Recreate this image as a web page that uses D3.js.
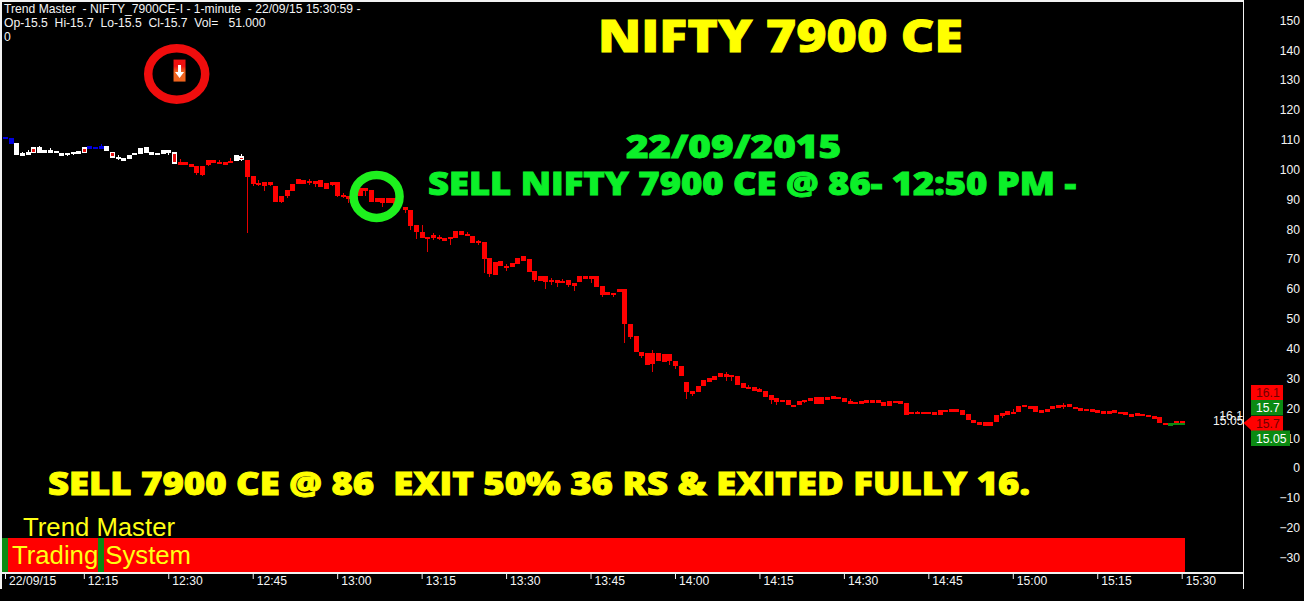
<!DOCTYPE html>
<html>
<head>
<meta charset="utf-8">
<script src="https://cdn.jsdelivr.net/npm/d3@7"></script>
<style>
  html, body { margin: 0; padding: 0; background: #000; overflow: hidden; }
  text { white-space: pre; }
  .small { font: 12.15px "Liberation Sans", Arial, sans-serif; fill: #f4f4f4; }
  .heavy { font-family: "Open Sans", sans-serif; font-weight: 800; stroke-width: 0.9; }
  .signal { font: 26px "Liberation Sans", Arial, sans-serif; fill: #ffff14; }
</style>
</head>
<body>
<div id="viz"></div>
<script>
const width = 1304;
const height = 601;

// One candle per minute, 12:01 to 15:30
const opens = [
  111.0,110.5,109.0,105.4,106.0,107.4,107.6,106.5,106.5,106.3,
  105.4,105.6,106.0,106.2,107.4,107.8,107.6,107.8,107.8,106.0,
  104.3,103.8,104.7,105.6,107.2,107.4,106.0,105.7,106.5,106.5,
  105.8,102.5,102.5,102.0,101.1,101.1,103.1,103.2,102.6,102.4,
  103.0,104.8,104.5,103.2,97.8,95.5,95.8,95.8,94.5,91.1,
  93.1,95.2,96.7,96.5,96.2,96.0,96.5,95.4,95.8,95.8,
  91.6,91.1,91.5,93.8,93.8,93.1,90.5,90.5,90.5,90.5,
  89.0,87.3,86.4,81.4,79.2,77.5,77.9,77.5,77.2,77.5,
  79.5,79.5,78.5,77.7,76.1,75.7,70.2,69.1,69.2,67.7,
  68.7,70.5,71.0,69.9,66.1,64.3,64.3,63.0,62.9,62.8,
  62.9,62.0,64.3,64.2,64.2,64.3,60.9,58.9,58.7,59.8,
  59.8,48.4,44.2,39.0,38.6,38.6,38.4,38.1,38.1,36.0,
  34.1,28.8,25.7,27.5,29.5,30.2,30.8,31.7,31.4,31.2,
  30.8,28.4,27.2,27.0,26.3,25.9,24.5,23.4,22.8,22.8,
  21.2,22.3,22.8,23.4,23.7,23.7,23.7,24.1,23.8,23.5,
  22.3,22.2,22.3,22.7,22.7,22.7,22.0,22.3,22.6,22.3,
  21.7,18.8,18.8,18.8,18.8,18.9,19.3,19.5,19.7,19.7,
  19.3,18.0,16.1,15.3,15.3,15.3,17.7,18.3,19.2,18.9,
  20.8,21.2,20.7,20.8,19.3,19.7,20.7,21.0,21.2,21.5,
  20.5,20.0,19.8,19.7,19.4,19.0,19.0,19.4,18.9,18.6,
  18.0,18.3,18.2,17.8,17.3,17.0,15.1,15.0,15.9,15.9
];
const closes = [
  110.1,108.7,104.9,104.9,104.9,105.4,105.4,105.4,106.0,105.4,
  105.2,104.9,105.4,105.9,105.4,106.9,107.4,107.6,106.3,104.0,
  103.6,103.6,103.6,104.7,105.2,105.6,104.9,104.9,105.2,105.8,
  102.0,102.3,102.0,100.7,98.7,98.2,101.6,102.3,102.4,102.2,
  102.3,102.8,103.2,97.6,95.2,95.3,94.5,94.9,89.1,89.1,
  91.1,92.9,95.2,95.2,96.0,95.6,94.3,93.6,95.2,91.1,
  90.9,90.7,91.0,91.1,92.9,89.1,89.1,88.7,88.7,88.7,
  88.5,86.6,81.0,79.1,77.0,76.8,77.0,76.8,76.1,77.2,
  77.0,77.9,78.2,75.4,75.8,70.1,65.0,64.6,67.6,67.5,
  67.2,68.3,69.4,65.6,62.9,62.7,62.3,62.8,62.7,62.6,
  61.4,61.1,62.3,63.8,63.8,60.7,57.8,58.0,58.0,58.9,
  48.4,44.0,38.8,37.5,34.6,35.0,35.7,35.5,35.7,34.3,
  30.8,25.3,25.3,25.3,27.3,28.8,29.5,30.6,31.1,30.7,
  27.9,26.8,26.9,25.9,26.0,23.9,22.8,22.2,22.1,21.2,
  20.6,21.0,22.1,22.6,21.5,21.5,23.2,23.2,23.6,22.1,
  21.9,21.6,21.7,22.1,21.8,21.8,20.9,20.9,22.3,21.5,
  17.9,18.6,18.6,18.6,18.6,17.9,17.9,19.3,19.2,19.3,
  17.9,16.2,15.2,15.1,14.2,13.9,15.4,17.9,17.9,18.7,
  18.9,21.0,20.5,18.9,19.1,19.2,19.8,20.1,21.0,20.3,
  20.2,19.8,19.6,19.0,18.9,18.6,18.6,18.6,18.7,18.0,
  17.8,17.7,17.7,17.2,17.1,15.0,14.9,14.5,15.0,15.0
];
// Only the minutes where a wick sticks out of the body
const upperWicks = {3:105.9,4:106.4,6:108.0,8:107.2,17:108.5,20:104.9,31:103.6,38:103.2,40:103.7,42:105.2,
  45:96.4,54:96.7,60:92.2,74:81.3,76:78.6,77:78.1,82:79.2,84:76.5,89:68.2,97:63.6,99:63.2,115:39.5,
  128:32.2,132:27.9,134:26.8,150:23.0,162:19.1,179:19.7,188:21.7};
const lowerWicks = {3:104.5,8:105.4,11:104.5,12:105.0,20:103.2,29:105.0,34:98.0,35:97.8,36:101.2,38:101.9,
  42:102.8,43:78.8,44:94.5,45:94.4,46:92.9,47:94.5,49:88.7,50:90.6,54:94.7,55:94.3,58:94.5,59:90.7,
  60:90.6,61:88.9,64:91.1,67:87.6,69:88.2,71:85.3,72:79.7,73:76.8,75:72.4,76:76.3,77:76.3,79:74.6,
  82:77.6,84:74.6,85:65.2,86:64.1,89:66.1,94:62.4,96:60.0,97:61.4,98:60.7,99:62.1,100:60.5,101:59.4,
  103:63.2,104:62.0,106:57.4,108:57.4,110:41.9,111:43.1,113:37.0,115:32.2,118:34.5,119:33.2,121:23.0,
  122:24.1,128:29.3,129:29.3,136:21.5,137:21.2,142:21.7,152:21.5,177:16.7,188:19.7,192:19.2};

// Candle colouring by minute; everything else is red
const blueMinutes = [0, 1, 15, 16, 17];
const whiteMinutes = [2, 3, 4, 6, 7, 8, 9, 10, 11, 12, 13, 18, 20, 21, 22, 23, 24, 25, 26, 27, 28, 29, 41];
const hollowMinutes = [5, 14, 19, 30, 42];
const greenMinutes = [207];
// Green stub under the last two red candles
const tailMinutes = [208, 209];
const tailTops = [15.0, 15.0];
const tailBottoms = [14.5, 14.5];

const yTicks = [150, 140, 130, 120, 110, 100, 90, 80, 70, 60, 50, 40, 30, 20, 10, 0, -10, -20, -30];
const xTickMinutes = [0, 14, 29, 44, 59, 74, 89, 104, 119, 134, 149, 164, 179, 194, 209];
const xTickLabels = ['22/09/15', '12:15', '12:30', '12:45', '13:00', '13:15', '13:30', '13:45',
  '14:00', '14:15', '14:30', '14:45', '15:00', '15:15', '15:30'];
const signalGreenMinutes = [0, 17];

// Markers on the chart: [minute, price]
const sellArrow = [31, 135];
const redRing = [30.5, 132];
const greenRing = [66, 91];

const svg = d3.select('#viz')
  .append('svg')
    .attr('width', width)
    .attr('height', height)
    .style('display', 'block');

const xScale = d3.scaleLinear().domain([0, 209]).range([5, 1181.7]);
const yScale = d3.scaleLinear().domain([-30, 150]).range([557.5, 20.3]);

svg.append('rect').attr('width', width).attr('height', height).attr('fill', '#000');

const defs = svg.append('defs');
const grad = defs.append('linearGradient').attr('id', 'arrowBox').attr('x1', 0).attr('x2', 0).attr('y1', 0).attr('y2', 1);
grad.append('stop').attr('offset', '0.3').attr('stop-color', '#f01010');
grad.append('stop').attr('offset', '0.55').attr('stop-color', '#f0641e');

// Frame
const frame = svg.append('g').attr('stroke', '#f2f2f2').attr('stroke-width', 1.5).attr('shape-rendering', 'crispEdges');
frame.append('line').attr('x1', 1).attr('x2', 1243).attr('y1', 1).attr('y2', 1);
frame.append('line').attr('x1', 1).attr('x2', 1).attr('y1', 0).attr('y2', 589);
frame.append('line').attr('x1', 1243.5).attr('x2', 1243.5).attr('y1', 0).attr('y2', 589);

// Signal strip, one cell a minute
svg.append('g')
  .selectAll('rect')
  .data(d3.range(0, 210))
  .join('rect')
    .attr('x', d => xScale(d) - 2.8)
    .attr('width', 5.7)
    .attr('y', 538)
    .attr('height', 35)
    .attr('shape-rendering', 'crispEdges')
    .attr('fill', d => signalGreenMinutes.includes(d) ? '#0b8a12' : '#ff0000');

svg.append('text').attr('class', 'signal').attr('x', 23).attr('y', 536)
  .attr('textLength', 152).attr('lengthAdjust', 'spacingAndGlyphs').text('Trend Master');
svg.append('text').attr('class', 'signal').attr('x', 12).attr('y', 564)
  .attr('textLength', 179).attr('lengthAdjust', 'spacingAndGlyphs').text('Trading System');

// Candles
const candleColor = i => {
  if (blueMinutes.includes(i)) return '#0000e0';
  if (whiteMinutes.includes(i) || hollowMinutes.includes(i)) return '#ffffff';
  if (greenMinutes.includes(i)) return '#0b8a12';
  return '#ff0000';
};
const candles = d3.range(0, opens.length).map(i => ({
  minute: i,
  open: opens[i],
  close: closes[i],
  high: upperWicks[i] !== undefined ? upperWicks[i] : opens[i],
  low: lowerWicks[i] !== undefined ? lowerWicks[i] : closes[i]
}));

const candleGroup = svg.append('g').attr('shape-rendering', 'crispEdges');
candleGroup.selectAll('.wick')
  .data(candles)
  .join('line')
    .attr('class', 'wick')
    .attr('x1', d => Math.round(xScale(d.minute)) + 0.5)
    .attr('x2', d => Math.round(xScale(d.minute)) + 0.5)
    .attr('y1', d => yScale(d.high))
    .attr('y2', d => yScale(d.low))
    .attr('stroke', d => candleColor(d.minute) === '#ff0000' ? '#e60000' : candleColor(d.minute));
candleGroup.selectAll('.body')
  .data(candles)
  .join('rect')
    .attr('class', 'body')
    .attr('x', d => Math.round(xScale(d.minute)) - 2)
    .attr('width', 5)
    .attr('y', d => yScale(d.open))
    .attr('height', d => Math.max(2.5, yScale(d.close) - yScale(d.open)))
    .attr('fill', d => candleColor(d.minute));
candleGroup.selectAll('.hollow')
  .data(candles.filter(d => hollowMinutes.includes(d.minute)))
  .join('rect')
    .attr('class', 'hollow')
    .attr('x', d => Math.round(xScale(d.minute)) - 1)
    .attr('width', 3)
    .attr('y', d => yScale(d.open) + 1.5)
    .attr('height', d => Math.max(1, yScale(d.close) - yScale(d.open) - 3))
    .attr('fill', '#e81010');
candleGroup.selectAll('.tail')
  .data(tailMinutes)
  .join('rect')
    .attr('class', 'tail')
    .attr('x', d => Math.round(xScale(d)) - 3)
    .attr('width', 6)
    .attr('y', (d, i) => yScale(tailTops[i]))
    .attr('height', (d, i) => yScale(tailBottoms[i]) - yScale(tailTops[i]))
    .attr('fill', '#0b8a12');

// Sell marker
const ax = xScale(sellArrow[0]);
const ay = yScale(sellArrow[1]);
svg.append('rect').attr('x', ax - 6).attr('y', ay - 5.5).attr('width', 12).attr('height', 22).attr('fill', 'url(#arrowBox)');
svg.append('path')
  .attr('d', `M${ax - 1.5},${ay} h3 v7 h3 l-4.5,6 l-4.5,-6 h3 z`)
  .attr('fill', '#fff');

// Rings
svg.append('ellipse')
  .attr('cx', xScale(redRing[0])).attr('cy', yScale(redRing[1]))
  .attr('rx', 28.5).attr('ry', 25.7)
  .attr('fill', 'none').attr('stroke', '#f00d0d').attr('stroke-width', 8.5);
svg.append('ellipse')
  .attr('cx', xScale(greenRing[0])).attr('cy', yScale(greenRing[1]))
  .attr('rx', 23).attr('ry', 21.5)
  .attr('fill', 'none').attr('stroke', '#1ef01e').attr('stroke-width', 8.5);

// Price axis, right aligned
const yAxisGroup = svg.append('g')
  .attr('transform', 'translate(1300, 0)')
  .call(d3.axisLeft(yScale).tickValues(yTicks).tickSize(0).tickPadding(0));
yAxisGroup.select('.domain').remove();
yAxisGroup.selectAll('text').attr('class', 'small').style('font', '12.15px "Liberation Sans", Arial, sans-serif');

// Time axis
const xAxisGroup = svg.append('g')
  .attr('transform', 'translate(0, 573)')
  .call(d3.axisBottom(xScale)
    .tickValues(xTickMinutes)
    .tickSize(6)
    .tickFormat((d, i) => xTickLabels[i]));
xAxisGroup.select('.domain').remove();
xAxisGroup.selectAll('.tick line').attr('stroke', '#f2f2f2');
xAxisGroup.selectAll('text')
  .attr('class', 'small')
  .style('font', '12.15px "Liberation Sans", Arial, sans-serif')
  .attr('text-anchor', 'start')
  .attr('x', 3.5)
  .attr('y', 3);
svg.append('line').attr('x1', 0).attr('x2', 1243).attr('y1', 573).attr('y2', 573)
  .attr('stroke', '#f2f2f2').attr('stroke-width', 1.5).attr('shape-rendering', 'crispEdges');

// Price tags at the right edge
const tagValues = ['16.1', '15.7', '15.7', '15.05'];
const tagFills = ['#ff0000', '#0b8a12', '#ff0000', '#0b8a12'];
const tagInks = ['#700000', '#ffffff', '#700000', '#ffffff'];
const tagTops = [385, 400, 416, 430.5];
const tagWidths = [32, 32, 32, 39];
const tags = svg.append('g');
tagValues.forEach((v, i) => {
  tags.append('rect').attr('x', 1251).attr('y', tagTops[i]).attr('width', tagWidths[i])
    .attr('height', i === 0 || i === 2 ? 15 : 15.5).attr('fill', tagFills[i]);
  tags.append('text').attr('class', 'small').attr('x', 1256).attr('y', tagTops[i] + 12)
    .style('fill', tagInks[i]).text(v);
});
tags.append('path').attr('d', 'M1243.5,423 L1252,416 L1252,431 Z').attr('fill', '#ff0000');

// Overprinted last-price labels
svg.append('text').attr('class', 'small').attr('x', 1243).attr('y', 420).attr('text-anchor', 'end').text('16.1');
svg.append('text').attr('class', 'small').attr('x', 1243.5).attr('y', 424.5).attr('text-anchor', 'end').text('15.05');

// Header
svg.append('text').attr('class', 'small').attr('x', 4).attr('y', 12.5).text('Trend Master  - NIFTY_7900CE-I - 1-minute  - 22/09/15 15:30:59 -');
svg.append('text').attr('class', 'small').attr('x', 4).attr('y', 26.5).text('Op-15.5  Hi-15.7  Lo-15.5  Cl-15.7  Vol=   51.000');
svg.append('text').attr('class', 'small').attr('x', 4).attr('y', 40.5).text('0');

// Big notes
const notes = [
  {t: 'NIFTY 7900 CE', x: 598, y: 52, w: 365, s: 44, c: '#ffff00'},
  {t: '22/09/2015', x: 626, y: 158, w: 215, s: 32, c: '#0cf029'},
  {t: 'SELL NIFTY 7900 CE @ 86- 12:50 PM -', x: 428, y: 195, w: 648, s: 31, c: '#0cf029'},
  {t: 'SELL 7900 CE @ 86  EXIT 50% 36 RS & EXITED FULLY 16.', x: 48, y: 495, w: 982, s: 31, c: '#ffff00'}
];
svg.append('g')
  .selectAll('text')
  .data(notes)
  .join('text')
    .attr('class', 'heavy')
    .attr('x', d => d.x)
    .attr('y', d => d.y)
    .attr('textLength', d => d.w)
    .attr('lengthAdjust', 'spacingAndGlyphs')
    .attr('font-size', d => d.s)
    .attr('fill', d => d.c)
    .attr('stroke', d => d.c)
    .text(d => d.t);
</script>
</body>
</html>
